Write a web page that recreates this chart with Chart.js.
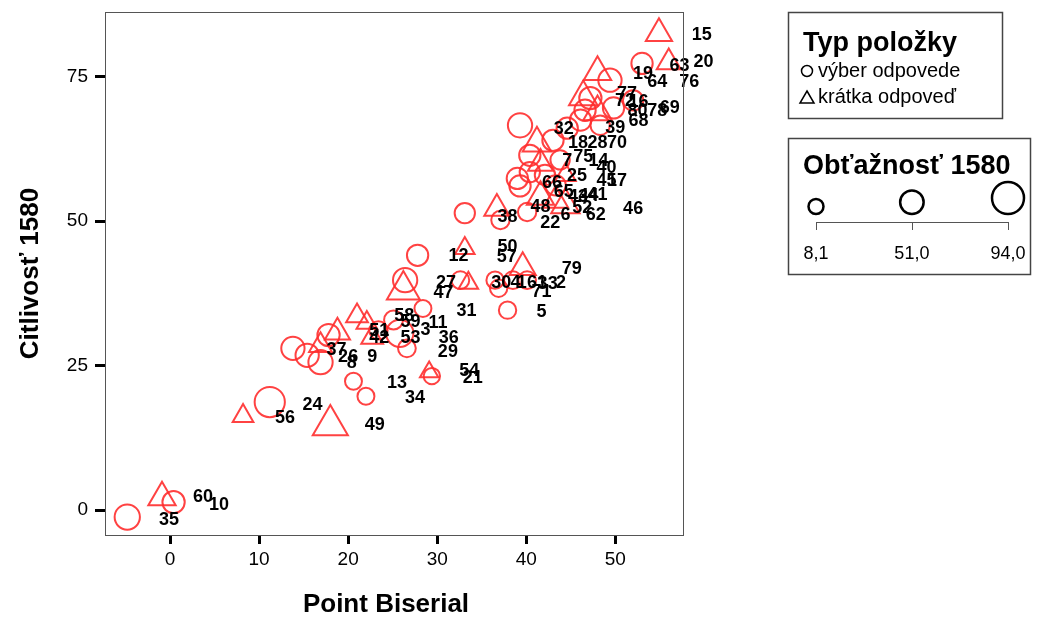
<!DOCTYPE html>
<html>
<head>
<meta charset="utf-8">
<script src="https://cdn.jsdelivr.net/npm/chart.js@4/dist/chart.umd.min.js"></script>
<style>
    body { margin: 0; background: #fff; }
    #wrap { width: 1038px; height: 621px; }
</style>
</head>
<body>
<div id="wrap"><canvas id="scatterChart" width="1038" height="621"></canvas></div>
<script>
// výber odpovede (circles): point biserial, citlivosť, obťažnosť
const circleX = [-4.8, 0.4, 11.2, 20.6, 22.0, 29.4, 13.8, 15.4, 16.9, 17.8, 23.4, 25.8, 26.6, 28.4, 25.1,
    27.8, 26.4, 32.6, 36.5, 36.9, 38.5, 40.1, 37.9, 33.1, 37.1, 39.3, 43.0, 44.6, 46.1, 40.4, 39.0, 39.3,
    42.1, 40.4, 40.1, 43.3, 53.0, 49.4, 47.2, 49.8, 52.0, 46.6, 48.3, 43.8];
const circleY = [-1.2, 1.4, 18.7, 22.3, 19.7, 23.2, 28.0, 26.8, 25.6, 30.3, 31.1, 30.6, 28.0, 34.9, 32.9,
    44.1, 39.8, 39.8, 39.8, 38.4, 39.8, 39.8, 34.6, 51.4, 50.2, 66.6, 64.0, 66.1, 67.5, 61.4, 57.4, 56.1,
    58.0, 58.5, 51.6, 56.2, 77.3, 74.4, 71.3, 69.6, 70.9, 69.2, 66.6, 60.6];
const circleD = [60, 45, 85, 18, 18, 15, 50, 50, 55, 45, 25, 70, 22, 18, 28,
    40, 55, 22, 20, 20, 22, 22, 20, 35, 25, 55, 40, 40, 40, 40, 40, 40,
    35, 35, 25, 35, 40, 50, 45, 40, 35, 40, 30, 30];

// krátka odpoveď (triangles)
const triX = [-0.9, 8.2, 18.0, 29.1, 18.8, 16.9, 21.0, 22.1, 22.7, 33.1, 26.2, 33.5, 39.6, 36.7, 41.2,
    41.6, 41.6, 43.3, 44.4, 44.4, 54.9, 56.0, 48.0, 46.4, 48.0];
const triY = [2.2, 16.3, 14.7, 23.9, 30.8, 28.5, 33.6, 32.4, 29.9, 45.3, 38.1, 39.3, 42.0, 52.2, 63.5,
    60.0, 54.2, 53.6, 52.8, 58.0, 82.5, 77.5, 75.8, 71.5, 68.9];
const triD = [55, 25, 90, 15, 45, 35, 30, 25, 30, 20, 80, 20, 50, 45, 60,
    45, 55, 45, 60, 25, 50, 40, 55, 60, 60];

// item number labels
const labelText = ['15', '20', '63', '19', '64', '76', '77', '72', '16', '80', '78', '69', '68', '39', '32',
    '18', '28', '70', '7', '75', '14', '40', '25', '45', '17', '66', '65', '43', '44', '41', '52', '62',
    '6', '22', '48', '38', '46', '12', '50', '57', '27', '47', '30', '4', '1', '61', '33', '71', '2', '79',
    '31', '5', '58', '59', '3', '11', '51', '42', '53', '36', '29', '37', '26', '8', '9', '13', '34', '54',
    '21', '24', '56', '49', '35', '60', '10'];
const labelX = [59.7, 59.9, 57.2, 53.1, 54.7, 58.3, 51.3, 51.1, 52.6, 52.5, 54.7, 56.1, 52.6, 50.0, 44.2,
    45.8, 48.0, 50.2, 44.6, 46.4, 48.1, 49.0, 45.7, 49.0, 50.2, 42.9, 44.2, 45.8, 47.0, 48.0, 46.3, 47.8,
    44.4, 42.7, 41.6, 37.9, 52.0, 32.4, 37.9, 37.8, 31.0, 30.7, 37.2, 38.8, 39.5, 41.2, 42.4, 41.7, 43.9, 45.1,
    33.3, 41.7, 26.3, 27.0, 28.7, 30.1, 23.5, 23.5, 27.0, 31.3, 31.2, 18.7, 20.0, 20.4, 22.7, 25.5, 27.5, 33.6,
    34.0, 16.0, 12.9, 23.0, -0.1, 3.7, 5.5];
const labelY = [82.2, 77.5, 76.8, 75.4, 74.0, 74.0, 72.0, 70.8, 70.6, 69.0, 69.0, 69.6, 67.3, 66.1, 65.9,
    63.5, 63.5, 63.5, 60.4, 61.1, 60.4, 59.2, 57.8, 56.9, 56.9, 56.6, 55.0, 54.2, 54.3, 54.5, 52.2, 51.0,
    51.0, 49.7, 52.4, 50.7, 52.1, 43.9, 45.5, 43.8, 39.3, 37.5, 39.3, 39.3, 39.3, 39.3, 39.1, 37.7, 39.3, 41.7,
    34.4, 34.3, 33.6, 32.5, 31.1, 32.4, 31.0, 29.8, 29.8, 29.8, 27.3, 27.7, 26.5, 25.4, 26.5, 22.0, 19.4, 24.0,
    22.8, 18.2, 15.9, 14.7, -1.7, 2.2, 0.9];

const xTicks = [0, 10, 20, 30, 40, 50];
const yTicks = [0, 25, 50, 75];
const sizeLegend = [8.1, 51.0, 94.0];

const FONT = '"Liberation Sans", Arial, sans-serif';
const RED = 'rgba(255, 45, 45, 0.9)';

function radiusFor(d) {
    return 7.5 + (d - 8.1) / (94 - 8.1) * 8.5;
}

function toPoints(xs, ys, ds) {
    return xs.map(function (x, i) { return {x: x, y: ys[i], d: ds[i]}; });
}

const labelPlugin = {
    id: 'labels',
    afterDatasetsDraw: function (chart) {
        const ctx = chart.ctx;
        const xs = chart.scales.x, ys = chart.scales.y;
        ctx.save();
        ctx.font = 'bold 18px ' + FONT;
        ctx.fillStyle = '#000';
        ctx.textAlign = 'center';
        ctx.textBaseline = 'middle';
        labelText.forEach(function (t, i) {
            ctx.fillText(t, xs.getPixelForValue(labelX[i]), ys.getPixelForValue(labelY[i]));
        });
        ctx.restore();
    }
};

const framePlugin = {
    id: 'frame',
    afterDraw: function (chart) {
        const ctx = chart.ctx;
        const a = chart.chartArea;
        ctx.save();
        ctx.strokeStyle = '#555';
        ctx.lineWidth = 1;
        ctx.strokeRect(a.left + 0.5, a.top + 0.5, a.right - a.left, a.bottom - a.top);

        // axis titles
        ctx.fillStyle = '#000';
        ctx.font = 'bold 26px ' + FONT;
        ctx.textAlign = 'center';
        ctx.textBaseline = 'middle';
        ctx.fillText('Point Biserial', (a.left + a.right) / 2 - 8, 605);
        ctx.translate(31, (a.top + a.bottom) / 2);
        ctx.rotate(-Math.PI / 2);
        ctx.fillText('Citlivosť 1580', 0, 0);
        ctx.restore();

        // legend: Typ položky
        ctx.save();
        ctx.strokeStyle = '#444';
        ctx.lineWidth = 1.5;
        ctx.strokeRect(788.5, 12.5, 214, 106);
        ctx.fillStyle = '#000';
        ctx.font = 'bold 27px ' + FONT;
        ctx.textBaseline = 'alphabetic';
        ctx.fillText('Typ položky', 803, 51);
        ctx.font = '20px ' + FONT;
        ctx.fillText('výber odpovede', 818, 77);
        ctx.fillText('krátka odpoveď', 818, 103);
        ctx.strokeStyle = '#000';
        ctx.lineWidth = 1.5;
        ctx.beginPath();
        ctx.arc(807, 71, 5.5, 0, Math.PI * 2);
        ctx.stroke();
        ctx.beginPath();
        ctx.moveTo(807, 91);
        ctx.lineTo(814, 103);
        ctx.lineTo(800, 103);
        ctx.closePath();
        ctx.stroke();

        // legend: Obťažnosť 1580
        ctx.strokeStyle = '#444';
        ctx.lineWidth = 1.5;
        ctx.strokeRect(788.5, 138.5, 242, 136);
        ctx.font = 'bold 27px ' + FONT;
        ctx.fillText('Obťažnosť 1580', 803, 174);
        const lx0 = 816, lx1 = 1008;
        ctx.font = '18px ' + FONT;
        ctx.textAlign = 'center';
        sizeLegend.forEach(function (d) {
            const px = lx0 + (d - sizeLegend[0]) / (sizeLegend[2] - sizeLegend[0]) * (lx1 - lx0);
            const r = radiusFor(d);
            ctx.strokeStyle = '#000';
            ctx.lineWidth = 2.5;
            ctx.beginPath();
            ctx.arc(px, 214 - r, r, 0, Math.PI * 2);
            ctx.stroke();
            ctx.strokeStyle = '#555';
            ctx.lineWidth = 1;
            ctx.beginPath();
            ctx.moveTo(Math.round(px) + 0.5, 222);
            ctx.lineTo(Math.round(px) + 0.5, 230);
            ctx.stroke();
            ctx.fillStyle = '#000';
            ctx.fillText(d.toFixed(1).replace('.', ','), px, 259);
        });
        ctx.strokeStyle = '#555';
        ctx.lineWidth = 1;
        ctx.beginPath();
        ctx.moveTo(lx0, 222.5);
        ctx.lineTo(lx1 + 1, 222.5);
        ctx.stroke();
        ctx.restore();
    }
};

const config = {
    type: 'scatter',
    data: {
        datasets: [
            {
                label: 'výber odpovede',
                data: toPoints(circleX, circleY, circleD),
                pointStyle: 'circle',
                pointRadius: function (c) { return radiusFor(c.raw.d); },
                borderColor: RED,
                backgroundColor: 'rgba(0,0,0,0)',
                borderWidth: 2,
            },
            {
                label: 'krátka odpoveď',
                data: toPoints(triX, triY, triD),
                pointStyle: 'triangle',
                pointRadius: function (c) { return radiusFor(c.raw.d) * 1.3; },
                borderColor: RED,
                backgroundColor: 'rgba(0,0,0,0)',
                borderWidth: 2,
            }]
    },
    plugins: [labelPlugin, framePlugin],
    options: {
        responsive: false,
        animation: false,
        events: [],
        layout: {
            autoPadding: false,
            padding: {top: 12, right: 355, left: 0, bottom: 0}
        },
        plugins: {
            legend: {display: false},
            tooltip: {enabled: false},
        },
        scales: {
            x: {
                type: 'linear',
                min: -7.3,
                max: 57.6,
                afterBuildTicks: function (s) { s.ticks = xTicks.map(function (v) { return {value: v}; }); },
                afterFit: function (s) {
                    s.height = 86;
                    s.paddingLeft = 0;
                    s.paddingRight = 0;
                },
                border: {display: false},
                grid: {
                    drawOnChartArea: false,
                    drawTicks: true,
                    tickLength: 9,
                    tickWidth: 3,
                    tickColor: '#000',
                },
                ticks: {
                    color: '#000',
                    padding: 4,
                    font: {family: FONT, size: 19},
                    maxRotation: 0,
                }
            },
            y: {
                type: 'linear',
                min: -4.3,
                max: 86.2,
                afterBuildTicks: function (s) { s.ticks = yTicks.map(function (v) { return {value: v}; }); },
                afterFit: function (s) {
                    s.width = 105;
                    s.paddingTop = 0;
                    s.paddingBottom = 0;
                },
                border: {display: false},
                grid: {
                    drawOnChartArea: false,
                    drawTicks: true,
                    tickLength: 10,
                    tickWidth: 3,
                    tickColor: '#000',
                },
                ticks: {
                    color: '#000',
                    padding: 7,
                    font: {family: FONT, size: 19},
                }
            }
        }
    }
};

let myChart = new Chart(document.getElementById('scatterChart'), config);
</script>
</body>
</html>
